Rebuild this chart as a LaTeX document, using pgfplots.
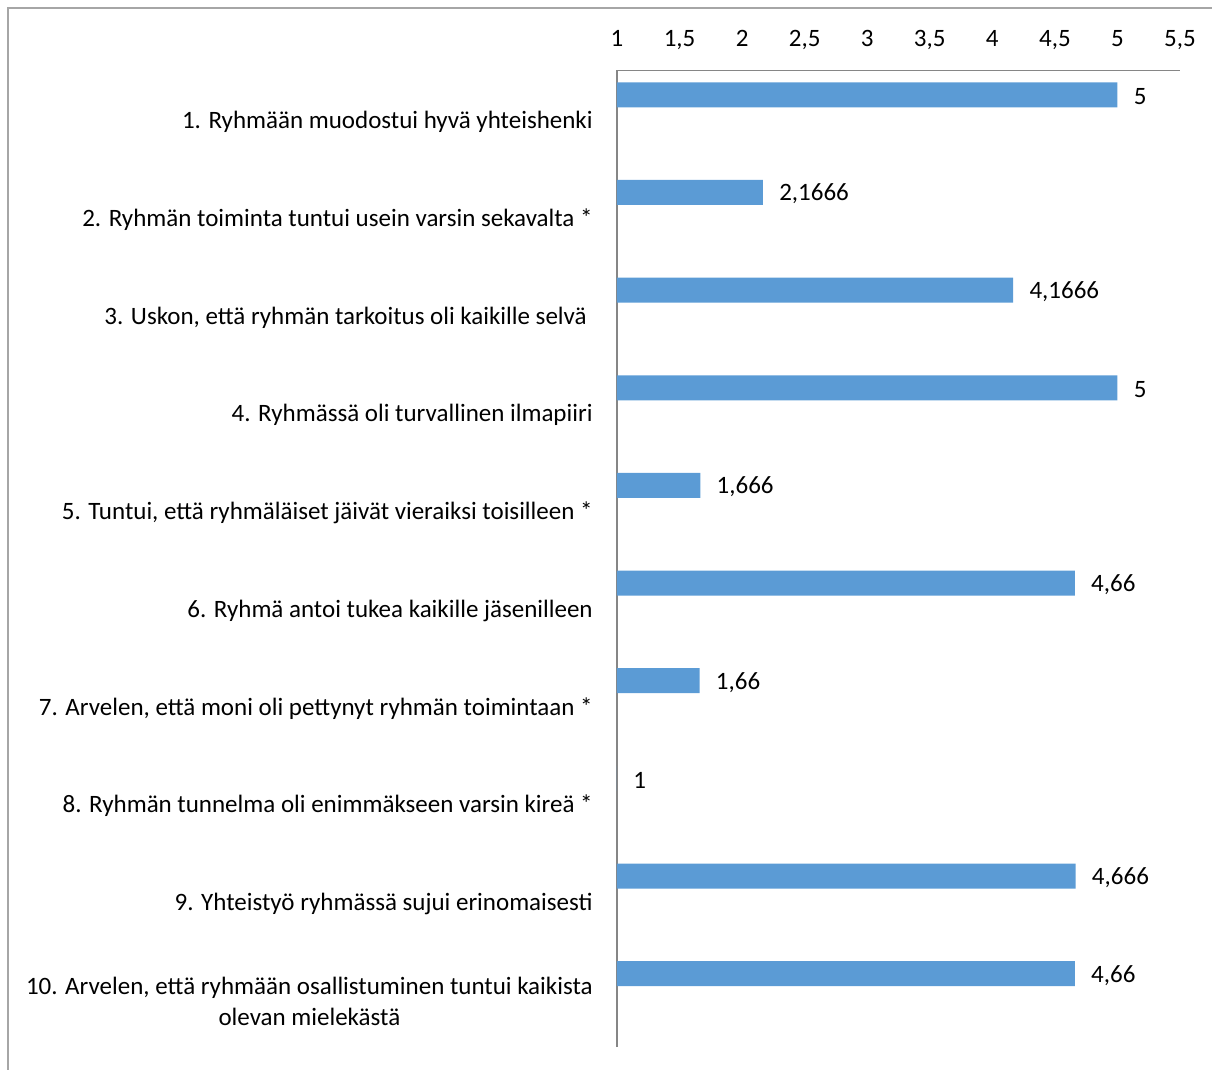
\documentclass[border=0pt]{standalone}
\usepackage{fontspec}
\setmainfont{Carlito}
\usepackage{pgfplots}
\pgfplotsset{compat=1.18}
\definecolor{barblue}{HTML}{5B9BD5}
\definecolor{axgray}{HTML}{868686}
\definecolor{framegray}{HTML}{A6A6A6}
\begin{document}
\fontsize{12.5pt}{15.5pt}\selectfont
\begin{tikzpicture}
\useasboundingbox (0,0) rectangle (606pt,-535pt);
\draw[framegray, line width=1pt] (4pt,-535pt) -- (4pt,-4pt) -- (606pt,-4pt);
\begin{axis}[
  at={(308.5pt,-35.25pt)}, anchor=north west,
  scale only axis, width=281.5pt, height=488.25pt,
  xbar, bar width=12.5pt, bar shift=12.25pt,
  xmin=1, xmax=5.5, ymin=0.5, ymax=10.5,
  axis x line*=top, axis y line*=left,
  axis line style={axgray, line width=0.7pt},
  xtick={1,1.5,...,5.5}, ytick={1,2,3,4,5,6,7,8,9,10},
  /pgf/number format/use comma,
  /pgf/number format/assume math mode=true,
  xticklabel style={anchor=base, yshift=12pt, font=\fontsize{12.5pt}{15.5pt}\selectfont},
  yticklabels={
    {10. Arvelen, että ryhmään osallistuminen tuntui kaikista\\olevan mielekästä},
    {9. Yhteistyö ryhmässä sujui erinomaisesti},
    {8. Ryhmän tunnelma oli enimmäkseen varsin kireä *},
    {7. Arvelen, että moni oli pettynyt ryhmän toimintaan *},
    {6. Ryhmä antoi tukea kaikille jäsenilleen},
    {5. Tuntui, että ryhmäläiset jäivät vieraiksi toisilleen *},
    {4. Ryhmässä oli turvallinen ilmapiiri},
    {3. Uskon, että ryhmän tarkoitus oli kaikille selvä\kern3pt},
    {2. Ryhmän toiminta tuntui usein varsin sekavalta *},
    {1. Ryhmään muodostui hyvä yhteishenki}},
  yticklabel style={anchor=east, align=center, xshift=-7.8pt, yshift=-1.5pt, font=\fontsize{12.5pt}{15.5pt}\selectfont},
  major tick length=0pt,
  point meta=explicit symbolic,
  nodes near coords,
  every node near coord/.append style={anchor=west, xshift=3.8pt, yshift=-0.8pt, font=\fontsize{12.5pt}{15.5pt}\selectfont, text=black},
  clip=false,
]
\addplot[fill=barblue, draw=none] coordinates {
  (5,10) [5]
  (2.1666,9) [2,1666]
  (4.1666,8) [4,1666]
  (5,7) [5]
  (1.666,6) [1,666]
  (4.66,5) [4,66]
  (1.66,4) [1,66]
  (1,3) [1]
  (4.666,2) [4,666]
  (4.66,1) [4,66]
};
\end{axis}
\end{tikzpicture}
\end{document}
